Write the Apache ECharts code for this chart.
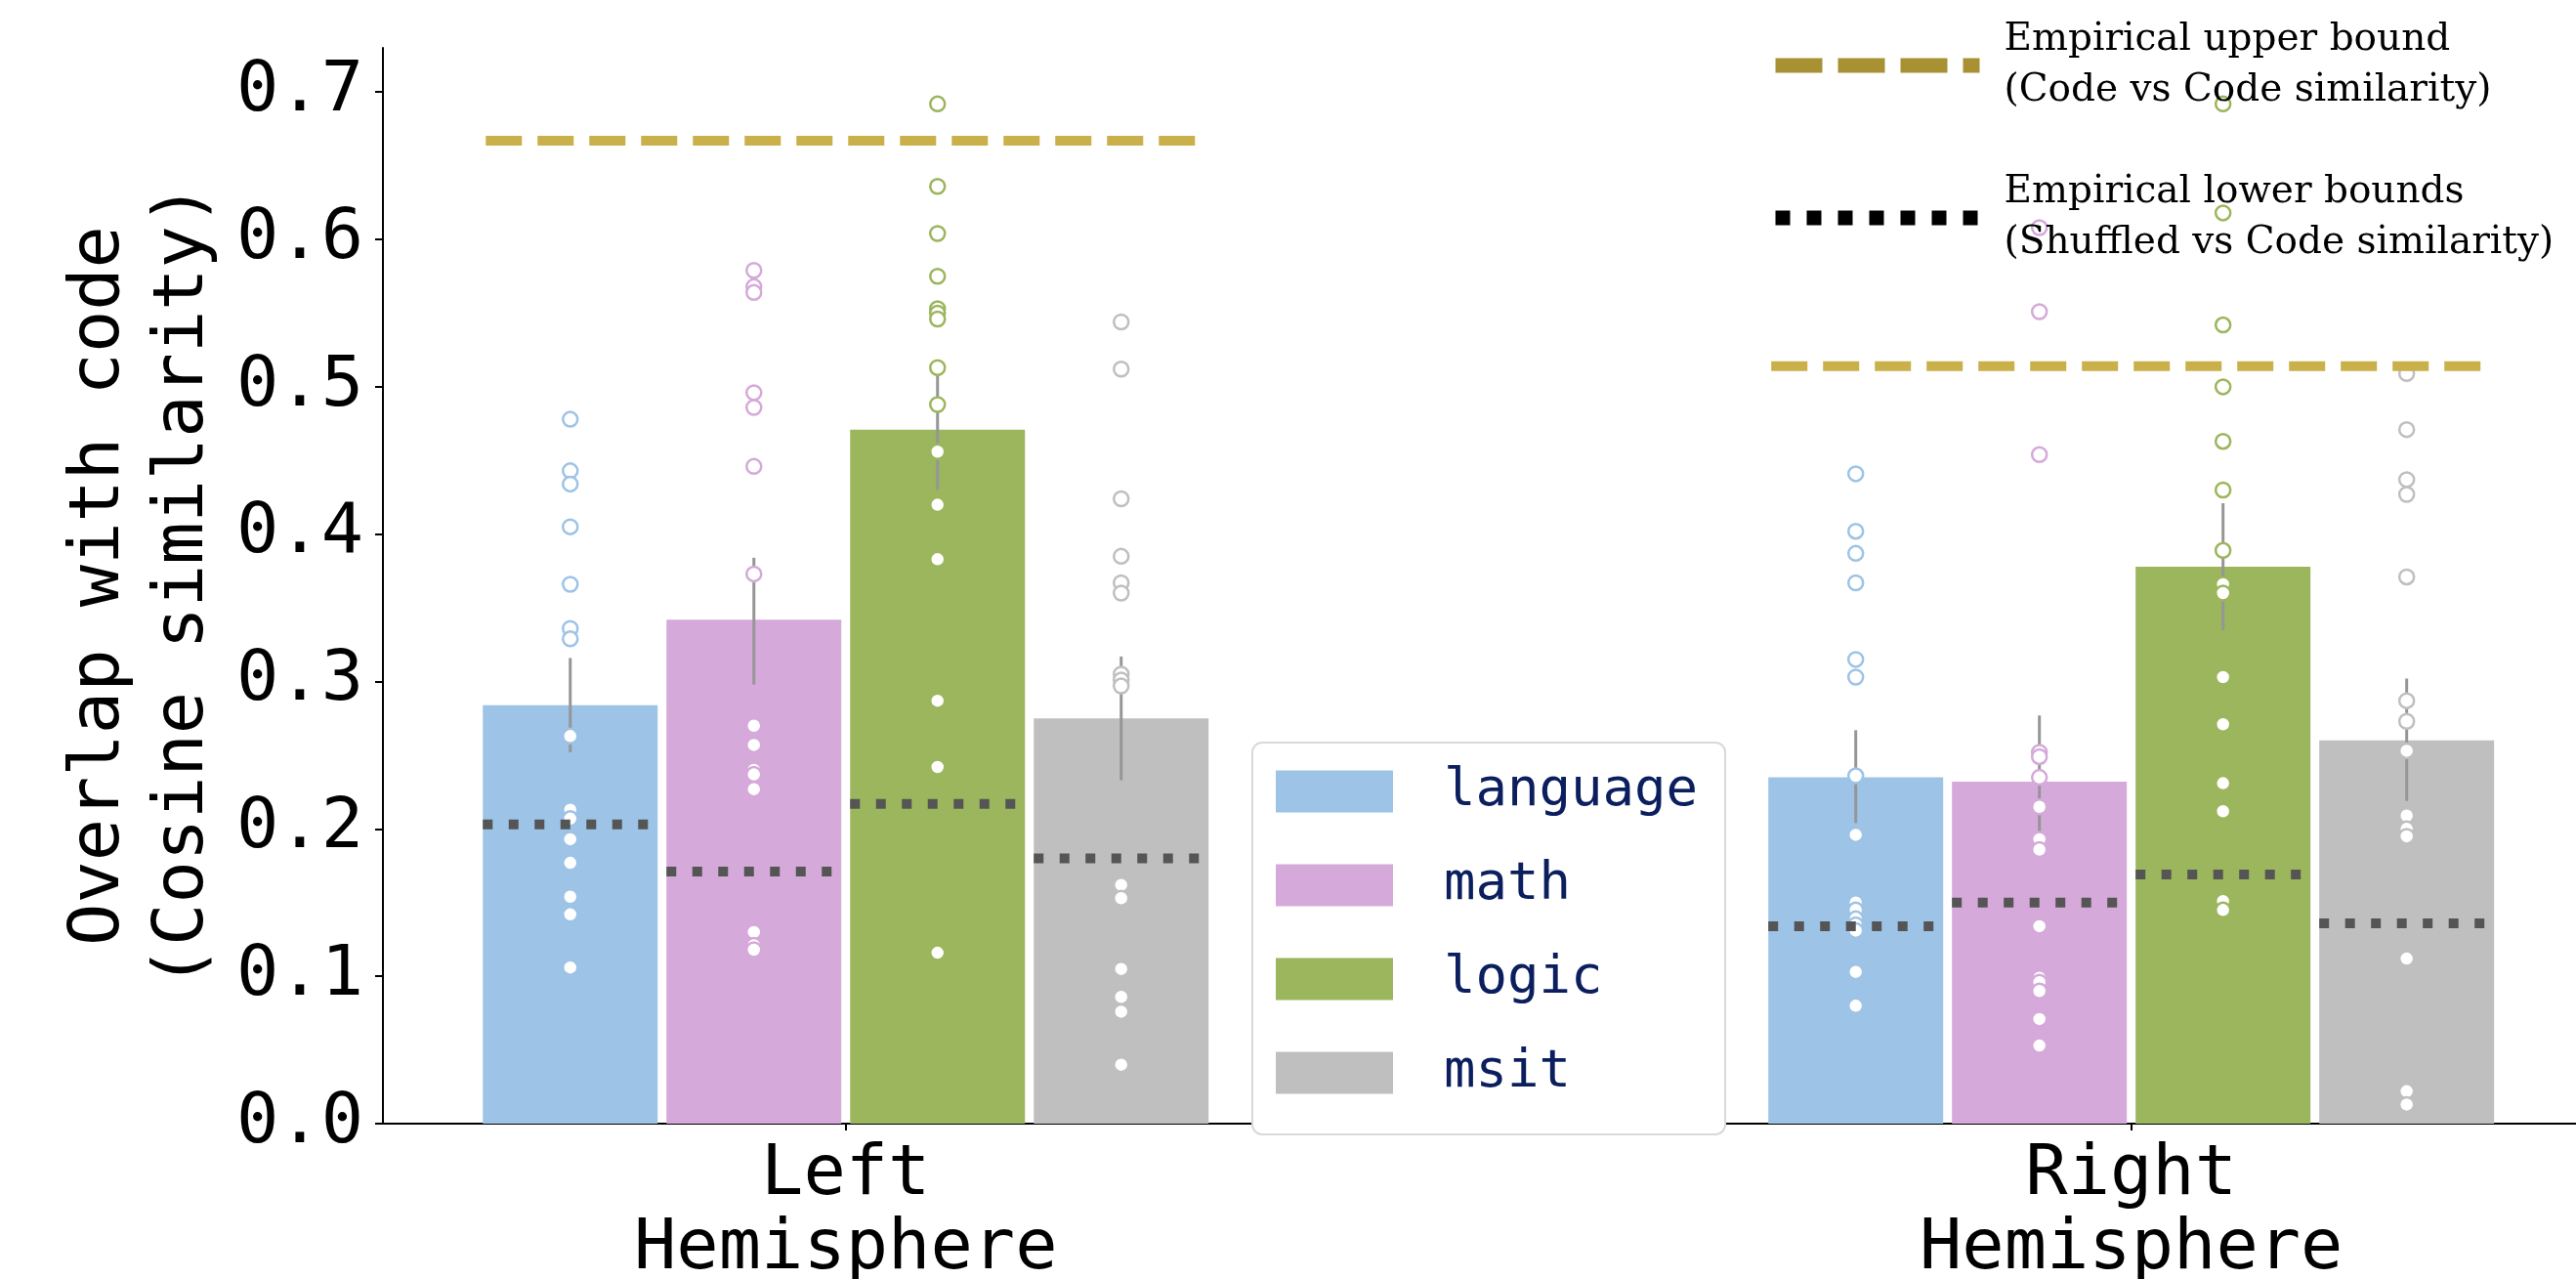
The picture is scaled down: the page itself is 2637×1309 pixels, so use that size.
<!DOCTYPE html>
<html>
<head>
<meta charset="utf-8">
<title>Overlap with code</title>
<script src="https://cdn.jsdelivr.net/npm/echarts@6.0.0/dist/echarts.min.js"></script>
<style>
  html, body { margin: 0; padding: 0; background: #fff; }
  #chart { width: 2637px; height: 1309px; }
</style>
</head>
<body>
<div id="chart"></div>
<script>
// categories
const hemispheres = ['Left\nHemisphere', 'Right\nHemisphere'];
const tasks = ['language', 'math', 'logic', 'msit'];
const taskColors = ['#9dc3e6', '#d5a9d9', '#9bb65c', '#bfbfbf'];

// bar heights (mean overlap), one value per task
const leftMeans = [0.284, 0.342, 0.471, 0.275];
const rightMeans = [0.235, 0.232, 0.378, 0.260];

// error bars
const leftCiLow = [0.252, 0.298, 0.430, 0.233];
const leftCiHigh = [0.316, 0.384, 0.508, 0.317];
const rightCiLow = [0.204, 0.198, 0.335, 0.219];
const rightCiHigh = [0.267, 0.277, 0.421, 0.302];

// empirical bounds
const upperBound = [0.667, 0.514];
const leftLowerBound = [0.203, 0.171, 0.217, 0.180];
const rightLowerBound = [0.134, 0.150, 0.169, 0.136];

// individual subjects
const leftLanguage = [0.478, 0.443, 0.434, 0.405, 0.366, 0.336, 0.329, 0.263, 0.213, 0.207, 0.193, 0.177, 0.154, 0.142, 0.106];
const leftMath = [0.579, 0.568, 0.564, 0.496, 0.486, 0.446, 0.373, 0.270, 0.257, 0.240, 0.237, 0.227, 0.130, 0.121, 0.118];
const leftLogic = [0.692, 0.636, 0.604, 0.575, 0.553, 0.550, 0.546, 0.513, 0.488, 0.456, 0.420, 0.383, 0.287, 0.242, 0.116];
const leftMsit = [0.544, 0.512, 0.424, 0.385, 0.367, 0.360, 0.305, 0.301, 0.297, 0.162, 0.153, 0.105, 0.086, 0.076, 0.040];
const rightLanguage = [0.441, 0.402, 0.387, 0.367, 0.315, 0.303, 0.236, 0.196, 0.150, 0.145, 0.139, 0.135, 0.131, 0.103, 0.080];
const rightMath = [0.608, 0.551, 0.454, 0.252, 0.249, 0.235, 0.215, 0.193, 0.186, 0.134, 0.099, 0.096, 0.090, 0.071, 0.053];
const rightLogic = [0.692, 0.618, 0.542, 0.500, 0.463, 0.430, 0.389, 0.366, 0.360, 0.303, 0.271, 0.231, 0.212, 0.151, 0.145];
const rightMsit = [0.509, 0.471, 0.437, 0.427, 0.371, 0.287, 0.273, 0.253, 0.209, 0.200, 0.195, 0.112, 0.022, 0.013];

const upperLabel = 'Empirical upper bound\n(Code vs Code similarity)';
const lowerLabel = 'Empirical lower bounds\n(Shuffled vs Code similarity)';

// dodge layout on the numeric x axis (hemisphere index = 0, 1)
const barStep = 1 / 7;
const barWidth = 0.136;
const boundHalfSpan = 0.28;
const xOf = (g, k) => g + (k - 1.5) * barStep;

const means = [leftMeans, rightMeans];
const ciLow = [leftCiLow, rightCiLow];
const ciHigh = [leftCiHigh, rightCiHigh];
const lowerBounds = [leftLowerBound, rightLowerBound];
const points = [
  [leftLanguage, leftMath, leftLogic, leftMsit],
  [rightLanguage, rightMath, rightLogic, rightMsit]
];

const monoFont = 'DejaVu Sans Mono';

const series = [];

tasks.forEach((task, k) => {
  series.push({
    name: task,
    type: 'custom',
    z: 1,
    itemStyle: { color: taskColors[k] },
    encode: { x: 0, y: 1 },
    data: means.map((m, g) => [xOf(g, k), m[k]]),
    renderItem: (params, api) => {
      const x = api.value(0);
      const top = api.coord([x - barWidth / 2, api.value(1)]);
      const bottom = api.coord([x + barWidth / 2, 0]);
      return {
        type: 'rect',
        shape: { x: top[0], y: top[1], width: bottom[0] - top[0], height: bottom[1] - top[1] },
        style: { fill: taskColors[k] }
      };
    }
  });
});

// error bars
series.push({
  name: 'ci',
  type: 'custom',
  z: 2,
  encode: { x: 0, y: [1, 2] },
  data: [0, 1].flatMap(g => tasks.map((t, k) => [xOf(g, k), ciLow[g][k], ciHigh[g][k]])),
  renderItem: (params, api) => {
    const lo = api.coord([api.value(0), api.value(1)]);
    const hi = api.coord([api.value(0), api.value(2)]);
    return {
      type: 'line',
      shape: { x1: lo[0], y1: lo[1], x2: hi[0], y2: hi[1] },
      style: { stroke: '#969696', lineWidth: 3 }
    };
  }
});

// subject points
tasks.forEach((task, k) => {
  series.push({
    name: task + ' subjects',
    type: 'scatter',
    z: 3,
    symbol: 'circle',
    symbolSize: 15,
    itemStyle: { color: '#ffffff', borderColor: taskColors[k], borderWidth: 2.5, opacity: 1 },
    data: [0, 1].flatMap(g => points[g][k].map(v => [xOf(g, k), v]))
  });
});

// lower bounds, one dotted segment per bar
const lowerData = [];
[0, 1].forEach(g => tasks.forEach((t, k) => {
  lowerData.push([xOf(g, k) - barWidth / 2, lowerBounds[g][k]]);
  lowerData.push([xOf(g, k) + barWidth / 2, lowerBounds[g][k]]);
  lowerData.push('-');
}));
series.push({
  name: lowerLabel,
  type: 'line',
  z: 4,
  symbol: 'none',
  connectNulls: false,
  lineStyle: { color: '#555555', width: 10, type: [10, 16.5], cap: 'butt' },
  data: lowerData
});

// upper bound, one dashed segment per hemisphere
const upperData = [];
upperBound.forEach((v, g) => {
  upperData.push([g - boundHalfSpan, v]);
  upperData.push([g + boundHalfSpan, v]);
  upperData.push('-');
});
series.push({
  name: upperLabel,
  type: 'line',
  z: 4,
  symbol: 'none',
  connectNulls: false,
  lineStyle: { color: '#c9b04b', width: 10, type: [37, 16], cap: 'butt' },
  data: upperData
});

const hiddenSymbol = { color: 'rgba(0,0,0,0)', opacity: 0, borderWidth: 0 };

const chart = echarts.init(document.getElementById('chart'));
chart.setOption({
  animation: false,
  backgroundColor: '#ffffff',
  grid: { left: 392, right: 0, top: 49, bottom: 159, containLabel: false, outerBoundsMode: 'none' },
  xAxis: {
    type: 'value',
    min: -0.36,
    max: 1.346,
    splitLine: { show: false },
    axisLine: { show: true, onZero: false, lineStyle: { color: '#000', width: 2 } },
    axisTick: { show: true, customValues: [0, 1], length: 7, lineStyle: { color: '#000', width: 2 } },
    axisLabel: {
      customValues: [0, 1],
      formatter: v => hemispheres[Math.round(v)],
      margin: 15,
      fontFamily: monoFont,
      fontSize: 72,
      lineHeight: 76,
      color: '#000'
    }
  },
  yAxis: {
    type: 'value',
    min: 0,
    max: 0.73,
    interval: 0.1,
    name: 'Overlap with code\n(Cosine similarity)',
    nameLocation: 'middle',
    nameRotate: 90,
    nameGap: 158,
    nameTextStyle: { fontFamily: monoFont, fontSize: 72, lineHeight: 86, color: '#000' },
    splitLine: { show: false },
    axisLine: { show: true, onZero: false, lineStyle: { color: '#000', width: 2 } },
    axisTick: { show: true, length: 8, lineStyle: { color: '#000', width: 2 } },
    axisLabel: {
      formatter: v => v.toFixed(1),
      margin: 20,
      fontFamily: monoFont,
      fontSize: 72,
      color: '#000',
      showMaxLabel: false
    }
  },
  legend: [
    {
      data: tasks.map(t => ({ name: t, icon: 'rect' })),
      orient: 'vertical',
      left: 1282,
      top: 760,
      padding: [23, 28, 36, 24],
      itemWidth: 120,
      itemHeight: 43,
      itemGap: 42,
      backgroundColor: '#ffffff',
      borderColor: '#d9d9d9',
      borderWidth: 2,
      borderRadius: 10,
      selectedMode: false,
      textStyle: {
        fontFamily: monoFont,
        fontSize: 54,
        lineHeight: 43,
        color: '#0b1f5e',
        padding: [0, 0, 0, 47]
      }
    },
    {
      data: [
        { name: upperLabel, itemStyle: hiddenSymbol, lineStyle: { color: '#a89132', width: 15, type: [48, 16], cap: 'butt' } },
        { name: lowerLabel, itemStyle: hiddenSymbol, lineStyle: { color: '#000000', width: 15, type: [15, 17], cap: 'butt' } }
      ],
      orient: 'vertical',
      left: 1810,
      top: 15,
      padding: 0,
      itemWidth: 209,
      itemHeight: 16,
      itemGap: 52,
      selectedMode: false,
      textStyle: {
        fontFamily: 'DejaVu Serif',
        fontSize: 39,
        lineHeight: 52,
        color: '#000',
        padding: [0, 0, 0, 20]
      }
    }
  ],
  series: series
});
</script>
</body>
</html>
